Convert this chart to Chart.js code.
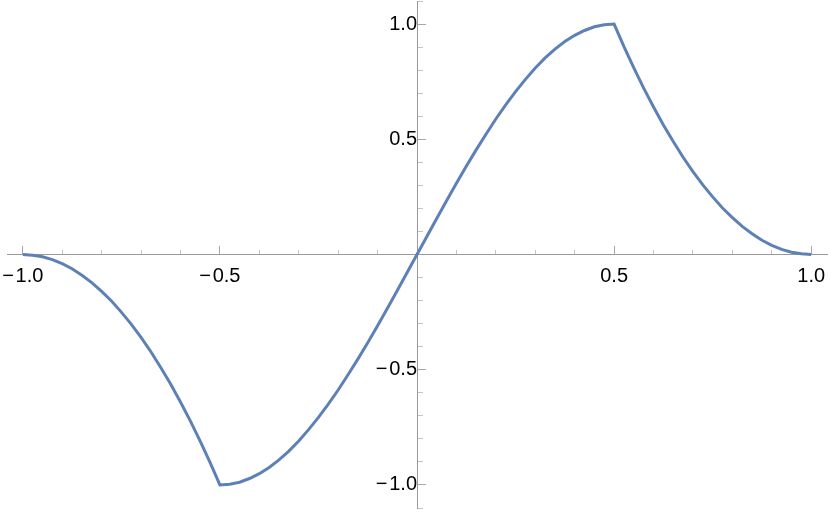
<!DOCTYPE html>
<html>
<head>
<meta charset="utf-8">
<script src="https://cdn.jsdelivr.net/npm/chart.js@4/dist/chart.umd.min.js"></script>
<style>
  html, body { margin: 0; padding: 0; background: #ffffff; }
  #wrap { width: 830px; height: 512px; }
</style>
</head>
<body>
<div id="wrap"><canvas id="c" width="830" height="512"></canvas></div>
<script>
// x samples of the curve
const xValues = [
  -1.0, -0.975, -0.95, -0.925, -0.9, -0.875, -0.85, -0.825, -0.8, -0.775,
  -0.75, -0.725, -0.7, -0.675, -0.65, -0.625, -0.6, -0.575, -0.55, -0.525,
  -0.5, -0.475, -0.45, -0.425, -0.4, -0.375, -0.35, -0.325, -0.3, -0.275,
  -0.25, -0.225, -0.2, -0.175, -0.15, -0.125, -0.1, -0.075, -0.05, -0.025,
  0.0, 0.025, 0.05, 0.075, 0.1, 0.125, 0.15, 0.175, 0.2, 0.225,
  0.25, 0.275, 0.3, 0.325, 0.35, 0.375, 0.4, 0.425, 0.45, 0.475,
  0.5, 0.525, 0.55, 0.575, 0.6, 0.625, 0.65, 0.675, 0.7, 0.725,
  0.75, 0.775, 0.8, 0.825, 0.85, 0.875, 0.9, 0.925, 0.95, 0.975, 1.0
];
// y values
const yValues = [
  0.0, -0.003, -0.01, -0.022, -0.04, -0.062, -0.09, -0.122, -0.16, -0.202,
  -0.25, -0.302, -0.36, -0.422, -0.49, -0.562, -0.64, -0.722, -0.81, -0.902,
  -1.0, -0.997, -0.988, -0.972, -0.951, -0.924, -0.891, -0.853, -0.809, -0.76,
  -0.707, -0.649, -0.588, -0.522, -0.454, -0.383, -0.309, -0.233, -0.156, -0.078,
  0.0, 0.078, 0.156, 0.233, 0.309, 0.383, 0.454, 0.522, 0.588, 0.649,
  0.707, 0.76, 0.809, 0.853, 0.891, 0.924, 0.951, 0.972, 0.988, 0.997,
  1.0, 0.902, 0.81, 0.722, 0.64, 0.562, 0.49, 0.422, 0.36, 0.302,
  0.25, 0.202, 0.16, 0.122, 0.09, 0.062, 0.04, 0.022, 0.01, 0.003, 0.0
];

const xMajorTicks = [-1.0, -0.5, 0.5, 1.0];
const xTickLabels = ['\u2212\u200a1.0', '\u2212\u200a0.5', '0.5', '1.0'];
const xMinorTicks = [-0.9, -0.8, -0.7, -0.6, -0.4, -0.3, -0.2, -0.1, 0.1, 0.2, 0.3, 0.4, 0.6, 0.7, 0.8, 0.9];

const yMajorTicks = [-1.0, -0.5, 0.5, 1.0];
const yTickLabels = ['\u2212\u200a1.0', '\u2212\u200a0.5', '0.5', '1.0'];
const yMinorTicks = [-1.1, -0.9, -0.8, -0.7, -0.6, -0.4, -0.3, -0.2, -0.1, 0.1, 0.2, 0.3, 0.4, 0.6, 0.7, 0.8, 0.9, 1.1];

const xRange = [-1.04, 1.04];
const yRange = [-1.1, 1.1];

const points = xValues.map((x, i) => ({ x: x, y: yValues[i] }));

const AXIS_COLOR = '#9a9a9a';
const MAJOR_TICK_COLOR = '#a8a8a8';
const MINOR_TICK_COLOR = '#c4c4c4';
const FONT = { family: "'Liberation Sans', Arial, sans-serif", size: 20 };

function zeroPad(scale) {
  scale.paddingLeft = 0; scale.paddingRight = 0;
  scale.paddingTop = 0; scale.paddingBottom = 0;
}

new Chart(document.getElementById('c'), {
  type: 'line',
  data: {
    datasets: [{
      data: points,
      borderColor: '#5e81b5',
      borderWidth: 3,
      pointRadius: 0,
      tension: 0,
      fill: false,
      xAxisID: 'x',
      yAxisID: 'y'
    }]
  },
  options: {
    responsive: false,
    animation: false,
    events: [],
    layout: { padding: { left: 7, right: 3, top: 1, bottom: 4 } },
    plugins: { legend: { display: false }, tooltip: { enabled: false } },
    scales: {
      x: {
        type: 'linear',
        min: xRange[0], max: xRange[1],
        position: { y: 0 },
        afterBuildTicks: s => { s.ticks = xMajorTicks.map(v => ({ value: v })); },
        afterFit: zeroPad,
        ticks: {
          autoSkip: false, maxRotation: 0, minRotation: 0,
          padding: 19, color: '#000000', font: FONT,
          callback: (v, i) => xTickLabels[i]
        },
        grid: { drawOnChartArea: false, drawTicks: true, tickLength: -9, tickColor: MAJOR_TICK_COLOR, tickWidth: 1 },
        border: { display: true, color: AXIS_COLOR, width: 1 }
      },
      xMinor: {
        type: 'linear',
        axis: 'x',
        min: xRange[0], max: xRange[1],
        position: { y: 0 },
        afterBuildTicks: s => { s.ticks = xMinorTicks.map(v => ({ value: v })); },
        afterFit: zeroPad,
        ticks: { autoSkip: false, maxRotation: 0, minRotation: 0, padding: 0, font: FONT, callback: () => '' },
        grid: { drawOnChartArea: false, drawTicks: true, tickLength: -5, tickColor: MINOR_TICK_COLOR, tickWidth: 1 },
        border: { display: false }
      },
      y: {
        type: 'linear',
        min: yRange[0], max: yRange[1],
        position: { x: 0 },
        afterBuildTicks: s => { s.ticks = yMajorTicks.map(v => ({ value: v })); },
        afterFit: zeroPad,
        ticks: {
          autoSkip: false, padding: 19, color: '#000000', font: FONT,
          callback: (v, i) => yTickLabels[i]
        },
        grid: { drawOnChartArea: false, drawTicks: true, tickLength: -9, tickColor: MAJOR_TICK_COLOR, tickWidth: 1 },
        border: { display: true, color: AXIS_COLOR, width: 1 }
      },
      yMinor: {
        type: 'linear',
        axis: 'y',
        min: yRange[0], max: yRange[1],
        position: { x: 0 },
        afterBuildTicks: s => { s.ticks = yMinorTicks.map(v => ({ value: v })); },
        afterFit: zeroPad,
        ticks: { autoSkip: false, padding: 0, font: FONT, callback: () => '' },
        grid: { drawOnChartArea: false, drawTicks: true, tickLength: -6, tickColor: MINOR_TICK_COLOR, tickWidth: 1 },
        border: { display: false }
      }
    }
  }
});
</script>
</body>
</html>
